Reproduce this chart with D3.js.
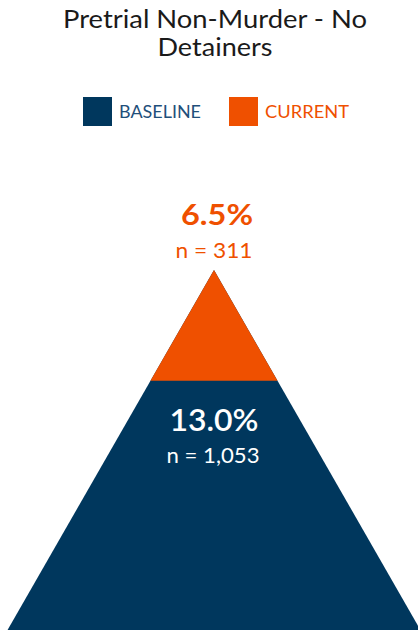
<!DOCTYPE html>
<html>
<head>
<meta charset="utf-8">
<script src="https://cdn.jsdelivr.net/npm/d3@7"></script>
<style>
  body { margin: 0; background: #fff; }
  svg { display: block; font-family: Lato, "Open Sans", sans-serif; }
</style>
</head>
<body>
<div id="chart"></div>
<script>
// data
const titleLines = ["Pretrial Non-Murder - No", "Detainers"];
const seriesNames = ["BASELINE", "CURRENT"];
const seriesRates = [13.0, 6.5];
const seriesCounts = [1053, 311];
const seriesColors = ["#00375d", "#ef5000"];
const labelColors = ["#1f4f7a", "#ef5000"];

const width = 418, height = 631;
const cx = 214;

let svg = d3.select("#chart").append("svg")
    .attr("width", width)
    .attr("height", height);

// title (widths matched to the original rendering)
let titleWidths = [304, 115];
svg.append("g")
    .selectAll("text")
    .data(titleLines)
    .enter().append("text")
    .attr("x", cx + 1)
    .attr("y", (d, i) => 28 + i * 28)
    .attr("text-anchor", "middle")
    .attr("font-size", 25)
    .attr("fill", "#1a1a1a")
    .attr("textLength", (d, i) => titleWidths[i])
    .attr("lengthAdjust", "spacingAndGlyphs")
    .text(d => d);

// legend
let legendX = [83, 229];
let legendW = [82, 84];
let legend = svg.append("g").attr("class", "legend");
legend.selectAll("rect")
    .data(seriesNames)
    .enter().append("rect")
    .attr("x", (d, i) => legendX[i])
    .attr("y", 97)
    .attr("width", 29)
    .attr("height", 29)
    .attr("fill", (d, i) => seriesColors[i]);
legend.selectAll("text")
    .data(seriesNames)
    .enter().append("text")
    .attr("x", (d, i) => legendX[i] + 36)
    .attr("y", 118)
    .attr("font-size", 18)
    .attr("fill", (d, i) => labelColors[i])
    .attr("textLength", (d, i) => legendW[i])
    .attr("lengthAdjust", "spacingAndGlyphs")
    .text(d => d);

// pyramid: value -> y from apex, width grows with y
let apexY = 270, baseY = 630;
let yScale = d3.scalePow().exponent(1.7)
    .domain([0, d3.max(seriesRates)])
    .range([apexY, baseY]);
let slope = 0.5735;

function triangle(v) {
    let yb = yScale(v);
    let hw = (yb - apexY) * slope;
    return `M${cx},${apexY}L${cx + hw},${yb}L${cx - hw},${yb}Z`;
}

svg.selectAll(".tri")
    .data(seriesRates)
    .enter().append("path")
    .attr("class", "tri")
    .attr("d", d => triangle(d))
    .attr("fill", (d, i) => seriesColors[i]);

let fmtN = d3.format(",");

function label(x, y, size, weight, color, w, txt) {
    svg.append("text")
        .attr("x", x)
        .attr("y", y)
        .attr("text-anchor", "middle")
        .attr("font-size", size)
        .attr("font-weight", weight)
        .attr("fill", color)
        .attr("textLength", w)
        .attr("lengthAdjust", "spacingAndGlyphs")
        .text(txt);
}

// current labels above apex
label(cx + 3, apexY - 45, 29, "bold", seriesColors[1], 72, seriesRates[1].toFixed(1) + "%");
label(cx, apexY - 12, 21, "normal", seriesColors[1], 77, "n = " + fmtN(seriesCounts[1]));

// baseline labels inside
let innerTop = yScale(seriesRates[1]);
label(cx, innerTop + 50, 30, 600, "#fff", 89, seriesRates[0].toFixed(1) + "%");
label(cx - 1, innerTop + 82, 21, "normal", "#fff", 93, "n = " + fmtN(seriesCounts[0]));
</script>
</body>
</html>
